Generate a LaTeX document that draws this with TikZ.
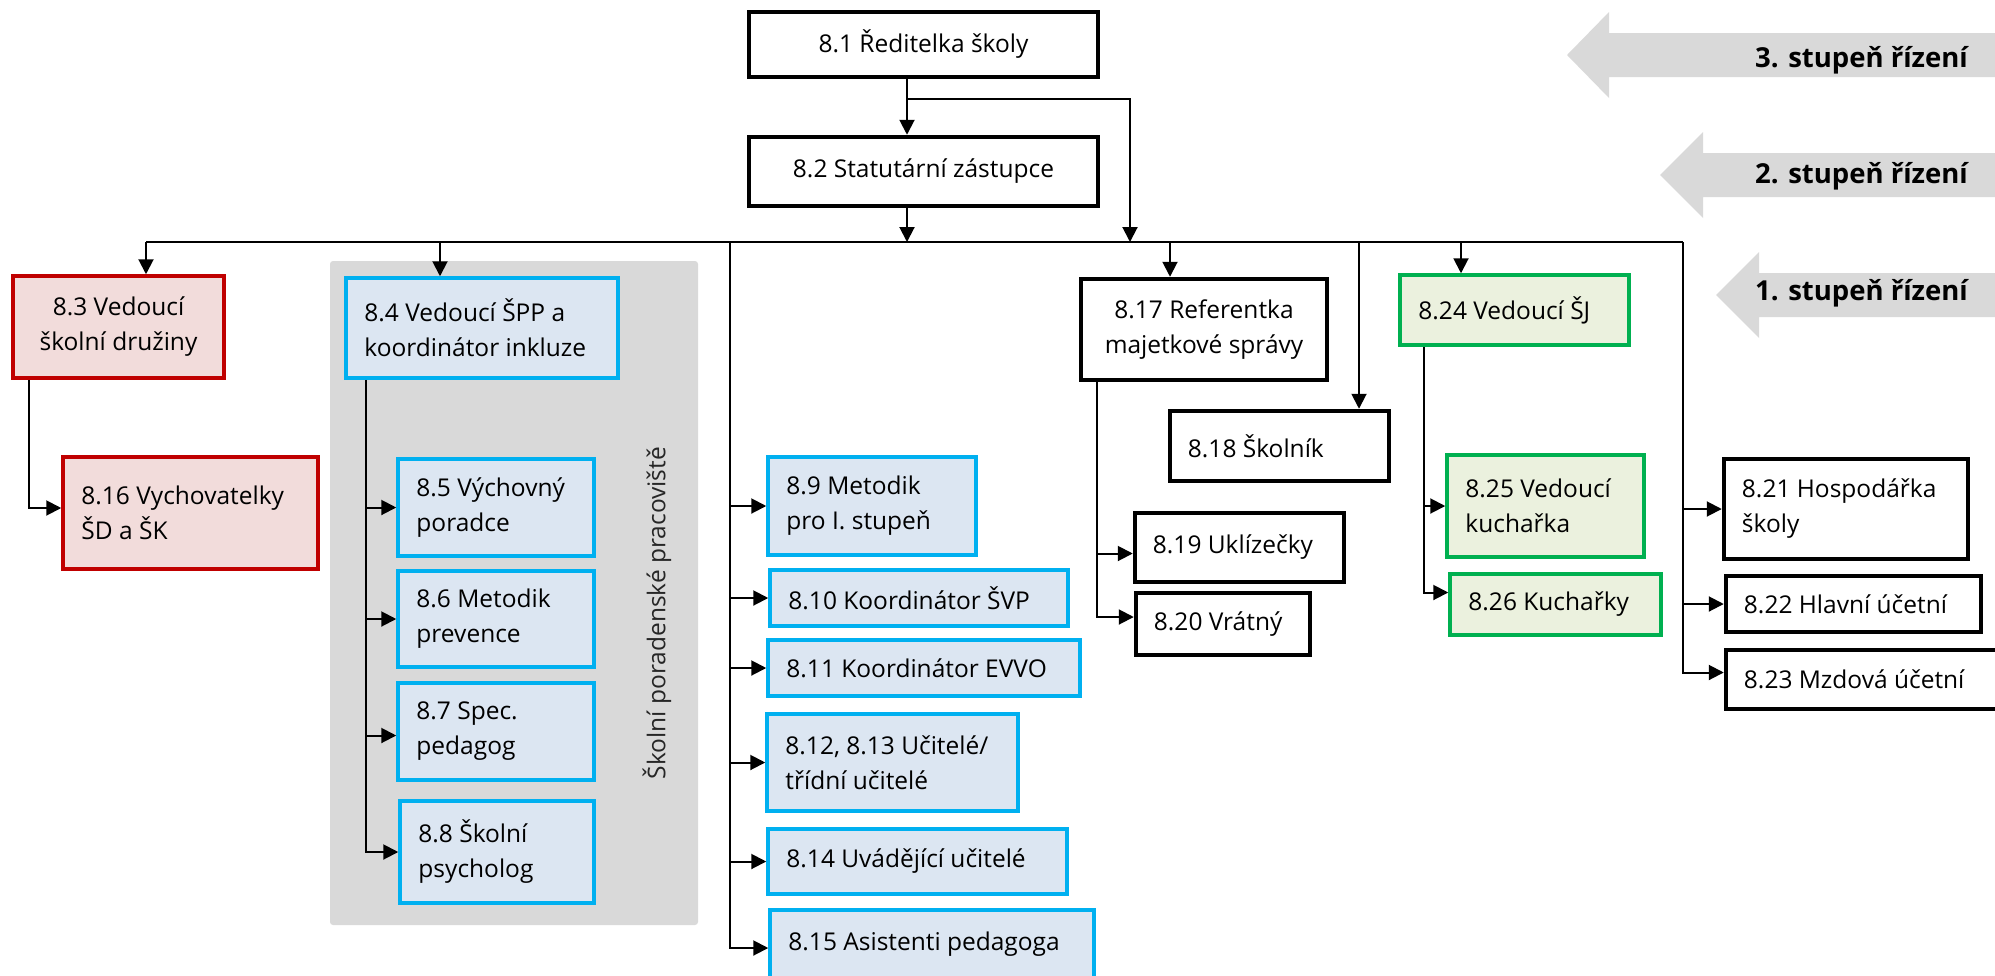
\documentclass[tikz,border=0pt]{standalone}
\usepackage{fontspec}
\setmainfont{Open Sans}
\usetikzlibrary{arrows.meta}
\definecolor{redb}{HTML}{C00000}
\definecolor{redf}{HTML}{F2DCDB}
\definecolor{blueb}{HTML}{00B0F0}
\definecolor{bluef}{HTML}{DCE6F2}
\definecolor{greenb}{HTML}{00B050}
\definecolor{greenf}{HTML}{EBF1DE}
\definecolor{greyf}{HTML}{D9D9D9}
\tikzset{
  box/.style={draw, rectangle, inner sep=0pt},
  blkbox/.style={box, draw=black, fill=white, line width=4.5pt},
  redbox/.style={box, draw=redb, fill=redf, line width=3.5pt},
  bluebox/.style={box, draw=blueb, fill=bluef, line width=3.5pt},
  greenbox/.style={box, draw=greenb, fill=greenf, line width=3.5pt},
  txt/.style={inner sep=0pt, align=left, font=\fontsize{24.5}{35}\selectfont},
  ctxt/.style={txt, align=center},
  ln/.style={line width=2pt, draw=black},
  arr/.style={ln, -{Triangle[length=15pt,width=15pt]}},
  panel/.style={fill=greyf, draw=none, rounded corners=3pt, inner sep=0pt},
  lvl/.style={fill=greyf, draw=none},
  lvltxt/.style={inner sep=0pt, font=\fontsize{27.5}{32}\selectfont\bfseries},
}
\newcommand{\lbox}[7]{%
  \pgfmathsetmacro{\obx}{(#3+#5)/2}%
  \pgfmathsetmacro{\oby}{(#4+#6)/2}%
  \pgfmathsetmacro{\obw}{#5-#3-4}%
  \pgfmathsetmacro{\obh}{#6-#4-4}%
  \node[#2, minimum width=\obw pt, minimum height=\obh pt] (#1) at (\obx,\oby) {};
  \node[txt, anchor=west] (#1t) at ([xshift=20pt]#1.west) {#7};
}
\newcommand{\cbox}[7]{%
  \pgfmathsetmacro{\obx}{(#3+#5)/2}%
  \pgfmathsetmacro{\oby}{(#4+#6)/2}%
  \pgfmathsetmacro{\obw}{#5-#3-4}%
  \pgfmathsetmacro{\obh}{#6-#4-4}%
  \node[#2, minimum width=\obw pt, minimum height=\obh pt] (#1) at (\obx,\oby) {};
  \node[ctxt] (#1t) at (#1.center) {#7};
}
\begin{document}
\begin{tikzpicture}[x=1pt, y=-1pt]
\useasboundingbox (0,0) rectangle (1995,975);
\clip (0,0) rectangle (1995,975);

% level arrows
\fill[lvl] (1567,55) -- (1609,12) -- (1609,33) -- (2000,33) -- (2000,77) -- (1609,77) -- (1609,98) -- cycle;
\fill[lvl] (1660,175) -- (1703,132) -- (1703,153) -- (2000,153) -- (2000,197) -- (1703,197) -- (1703,218) -- cycle;
\fill[lvl] (1716,295) -- (1759,252) -- (1759,273) -- (2000,273) -- (2000,317) -- (1759,317) -- (1759,338) -- cycle;
\node[lvltxt, anchor=base east] (l3) at (1968,67) {3. stupeň řízení};
\node[lvltxt, anchor=base east] (l2) at (1968,183) {2. stupeň řízení};
\node[lvltxt, anchor=base east] (l1) at (1968,300) {1. stupeň řízení};

% grey panel
\node[panel, minimum width=368pt, minimum height=664pt] (spp) at (514,593) {};
\node[txt, rotate=90, text=black!85] (sppt) at (657,613) {Školní poradenské pracoviště};

% boxes
\cbox{n81}{blkbox}{747}{10}{1100}{79}{8.1 Ředitelka školy}
\cbox{n82}{blkbox}{747}{135}{1100}{208}{8.2 Statutární zástupce}
\cbox{n83}{redbox}{11}{274}{226}{380}{8.3 Vedoucí\\školní družiny}
\lbox{n816}{redbox}{61}{455}{320}{571}{8.16 Vychovatelky\\ŠD a ŠK}
\lbox{n84}{bluebox}{344}{276}{620}{380}{8.4 Vedoucí ŠPP a\\koordinátor inkluze}
\lbox{n85}{bluebox}{396}{457}{596}{558}{8.5 Výchovný\\poradce}
\lbox{n86}{bluebox}{396}{569}{596}{669}{8.6 Metodik\\prevence}
\lbox{n87}{bluebox}{396}{681}{596}{782}{8.7 Spec.\\pedagog}
\lbox{n88}{bluebox}{398}{799}{596}{905}{8.8 Školní\\psycholog}
\lbox{n89}{bluebox}{766}{455}{978}{557}{8.9 Metodik\\pro I. stupeň}
\lbox{n810}{bluebox}{768}{568}{1070}{628}{8.10 Koordinátor ŠVP}
\lbox{n811}{bluebox}{766}{638}{1082}{698}{8.11 Koordinátor EVVO}
\lbox{n812}{bluebox}{765}{712}{1020}{813}{8.12, 8.13 Učitelé/\\třídní učitelé}
\lbox{n814}{bluebox}{766}{827}{1069}{896}{8.14 Uvádějící učitelé}
\lbox{n815}{bluebox}{768}{908}{1096}{980}{8.15 Asistenti pedagoga}
\cbox{n817}{blkbox}{1079}{277}{1329}{382}{8.17 Referentka\\majetkové správy}
\lbox{n818}{blkbox}{1168}{409}{1391}{483}{8.18 Školník}
\lbox{n819}{blkbox}{1133}{511}{1346}{584}{8.19 Uklízečky}
\lbox{n820}{blkbox}{1134}{591}{1312}{657}{8.20 Vrátný}
\lbox{n824}{greenbox}{1398}{273}{1631}{347}{8.24 Vedoucí ŠJ}
\lbox{n825}{greenbox}{1445}{453}{1646}{559}{8.25 Vedoucí\\kuchařka}
\lbox{n826}{greenbox}{1448}{572}{1663}{637}{8.26 Kuchařky}
\lbox{n821}{blkbox}{1722}{457}{1970}{561}{8.21 Hospodářka\\školy}
\lbox{n822}{blkbox}{1724}{574}{1983}{634}{8.22 Hlavní účetní}
\lbox{n823}{blkbox}{1724}{648}{2000}{711}{8.23 Mzdová účetní}

% connector coordinates
\coordinate (busL) at (146,242);
\coordinate (busR) at (1683,242);
\coordinate (j1) at (907,99);
\coordinate (c2) at (1130,242);
\coordinate (d4) at (440,242);
\coordinate (d9) at (730,242);
\coordinate (d17) at (1170,242);
\coordinate (d18) at (1359,242);
\coordinate (d24) at (1461,242);
\coordinate (v3) at (29,0);
\coordinate (v4) at (366,0);
\coordinate (v17) at (1097,0);
\coordinate (v24) at (1424,0);
\coordinate (a816) at ([yshift=5pt]n816.west);
\coordinate (a87) at ([yshift=-4pt]n87.west);
\coordinate (a815) at ([yshift=-4pt]n815.west);
\coordinate (a819) at ([yshift=-6pt]n819.west);
\coordinate (a820) at ([yshift=7pt]n820.west);
\coordinate (a826) at ([yshift=12pt]n826.west);
\coordinate (a823) at ([yshift=7pt]n823.west);

% connectors
\draw[ln] (busL) -- (busR);
\draw[arr] (j1 |- n81.south) -- (j1 |- n82.north);
\draw[arr] (j1) -| (c2);
\draw[arr] (j1 |- n82.south) -- (j1 |- busL);
\draw[arr] (busL) -- (busL |- n83.north);
\draw[arr] (d4) -- (d4 |- n84.north);
\draw[arr] (d17) -- (d17 |- n817.north);
\draw[arr] (d18) -- (d18 |- n818.north);
\draw[arr] (d24) -- (d24 |- n824.north);

\draw[arr] (v3 |- n83.south) |- (a816);

\draw[arr] (v4 |- n84.south) |- (n88.west);
\draw[arr] (v4 |- n85.west) -- (n85.west);
\draw[arr] (v4 |- n86.west) -- (n86.west);
\draw[arr] (v4 |- a87) -- (a87);

\draw[arr] (d9) |- (a815);
\draw[arr] (d9 |- n89.west) -- (n89.west);
\draw[arr] (d9 |- n810.west) -- (n810.west);
\draw[arr] (d9 |- n811.west) -- (n811.west);
\draw[arr] (d9 |- n812.west) -- (n812.west);
\draw[arr] (d9 |- n814.west) -- (n814.west);

\draw[arr] (v17 |- n817.south) |- (a820);
\draw[arr] (v17 |- a819) -- (a819);

\draw[arr] (v24 |- n824.south) |- (a826);
\draw[arr] (v24 |- n825.west) -- (n825.west);

\draw[arr] (busR) |- (a823);
\draw[arr] (busR |- n821.west) -- (n821.west);
\draw[arr] (busR |- n822.west) -- (n822.west);
\end{tikzpicture}
\end{document}
